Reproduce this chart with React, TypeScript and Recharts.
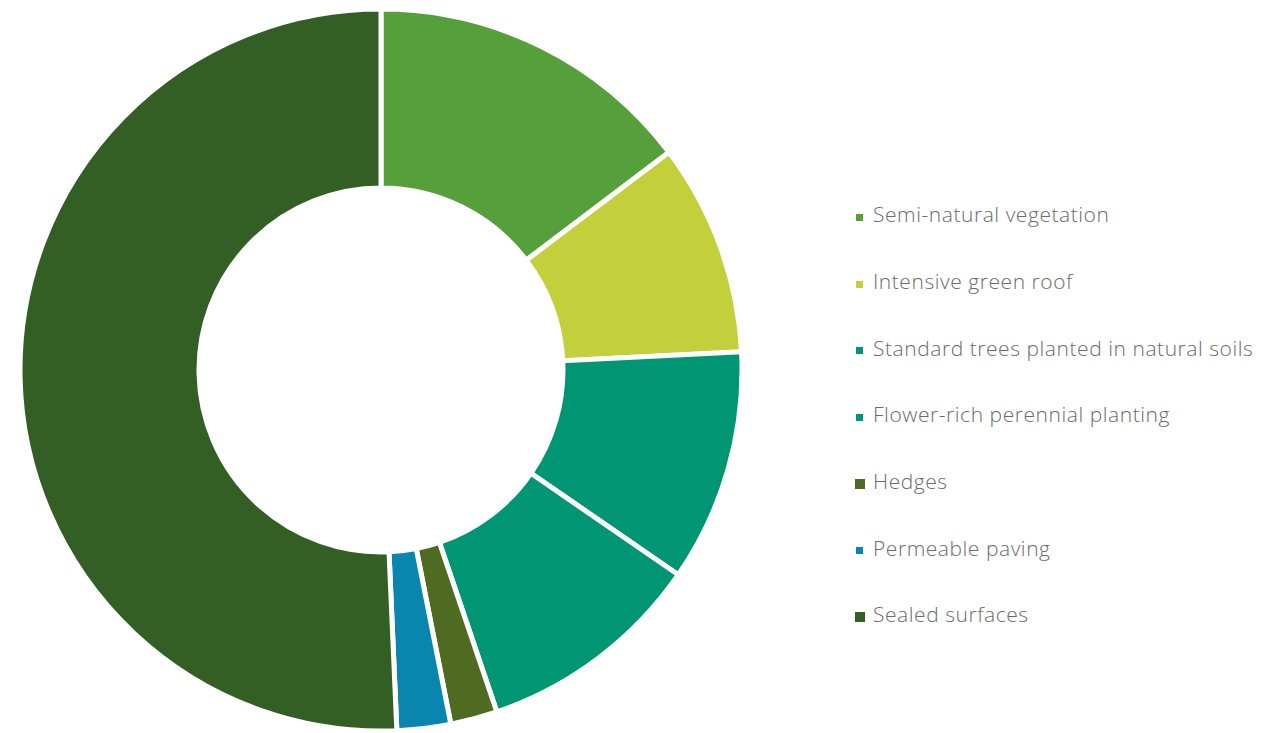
import { PieChart, Pie, Cell, Legend } from 'recharts';

const categories = [
  'Semi-natural vegetation',
  'Intensive green roof',
  'Standard trees planted in natural soils',
  'Flower-rich perennial planting',
  'Hedges',
  'Permeable paving',
  'Sealed surfaces',
];
const shares = [14.7, 9.5, 10.4, 10.2, 2.1, 2.4, 50.7];
const colors = ['#55a03a', '#c3d03b', '#009673', '#009673', '#4f6b22', '#0a85b0', '#335f24'];
const markerSizes = [7, 7, 7, 7, 10, 7, 10];

const data = categories.map((name, i) => ({ name, value: shares[i] }));

const renderLegend = () => (
  <div
    style={{
      fontFamily: '"Open Sans", sans-serif',
      fontWeight: 300,
      fontSize: 21,
      letterSpacing: 0.55,
      color: '#6b6b6b',
    }}
  >
    {categories.map((name, i) => (
      <div key={name} style={{ display: 'flex', alignItems: 'center', height: 66.7 }}>
        <span style={{ width: 15, display: 'inline-flex', justifyContent: 'center', marginTop: 6 }}>
          <span
            style={{
              width: markerSizes[i],
              height: markerSizes[i],
              background: colors[i],
              display: 'inline-block',
            }}
          />
        </span>
        <span style={{ marginLeft: 6 }}>{name}</span>
      </div>
    ))}
  </div>
);

export default function App() {
  return (
    <div style={{ position: 'absolute', left: 0, top: 0, background: '#fff' }}>
      <PieChart width={1265} height={733} margin={{ top: 0, right: 0, bottom: 0, left: 0 }}>
        <Pie
          data={data}
          dataKey="value"
          nameKey="name"
          cx={381}
          cy={370}
          innerRadius={182}
          outerRadius={361}
          startAngle={90}
          endAngle={-270}
          stroke="#ffffff"
          strokeWidth={5}
          isAnimationActive={false}
        >
          {data.map((d, i) => (
            <Cell key={d.name} fill={colors[i]} />
          ))}
        </Pie>
        <Legend
          layout="vertical"
          content={renderLegend}
          wrapperStyle={{ position: 'absolute', left: 852, top: 181, width: 410 }}
        />
      </PieChart>
    </div>
  );
}
